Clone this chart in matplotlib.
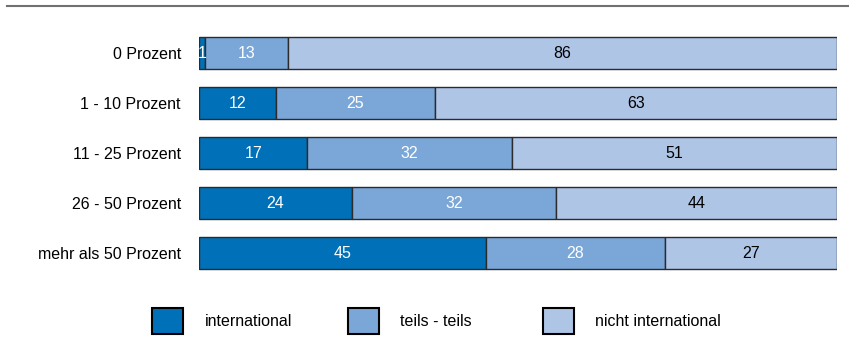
import matplotlib.pyplot as plt
from matplotlib.patches import Rectangle
from matplotlib.lines import Line2D

plt.rcParams['font.family'] = ['Liberation Sans', 'DejaVu Sans']

# =========================
# Data
# =========================
categories = ["0 Prozent", "1 - 10 Prozent", "11 - 25 Prozent", "26 - 50 Prozent", "mehr als 50 Prozent"]
international = [1, 12, 17, 24, 45]
teils = [13, 25, 32, 32, 28]
nicht = [86, 63, 51, 44, 27]

series = [
    ("international", international, "#0070B8", "white"),
    ("teils - teils", teils, "#7BA7D8", "white"),
    ("nicht international", nicht, "#AEC5E6", "black"),
]

FS = 11.5

# =========================
# Plot
# =========================
fig = plt.figure(figsize=(8.49, 3.38), dpi=100)
ax = fig.add_axes([199 / 849, 1 - 278 / 338, 638 / 849, 250 / 338])

y = list(range(len(categories)))
left = [0] * len(categories)
for name, vals, color, tcolor in series:
    ax.barh(y, vals, left=left, height=0.64, color=color, edgecolor="#2b2b2b", linewidth=1.0)
    for i, v in enumerate(vals):
        ax.text(left[i] + v / 2, y[i], str(v), ha="center", va="center",
                color=tcolor, fontsize=FS)
    left = [l + v for l, v in zip(left, vals)]

ax.set_xlim(0, 100)
ax.set_ylim(len(categories) - 0.5, -0.5)
ax.set_yticks(y)
ax.set_yticklabels(categories, fontsize=FS)
ax.tick_params(axis="y", length=0, pad=13)
ax.set_xticks([])
for s in ax.spines.values():
    s.set_visible(False)

# =========================
# Legend (manual)
# =========================
W, H = 849, 338
for (name, vals, color, tcolor), px, tx in zip(series, [152, 348, 543], [205, 400, 595]):
    fig.patches.append(Rectangle((px / W, 1 - 334 / H), 31 / W, 26 / H,
                                 transform=fig.transFigure, facecolor=color,
                                 edgecolor="black", linewidth=1.5))
    fig.text(tx / W, 1 - 321 / H, name, ha="left", va="center", fontsize=FS)

# top rule
fig.add_artist(Line2D([7 / W, 1], [1 - 6 / H, 1 - 6 / H], transform=fig.transFigure,
                      color="#707070", linewidth=1.5))

fig.savefig("out.png", dpi=100)
